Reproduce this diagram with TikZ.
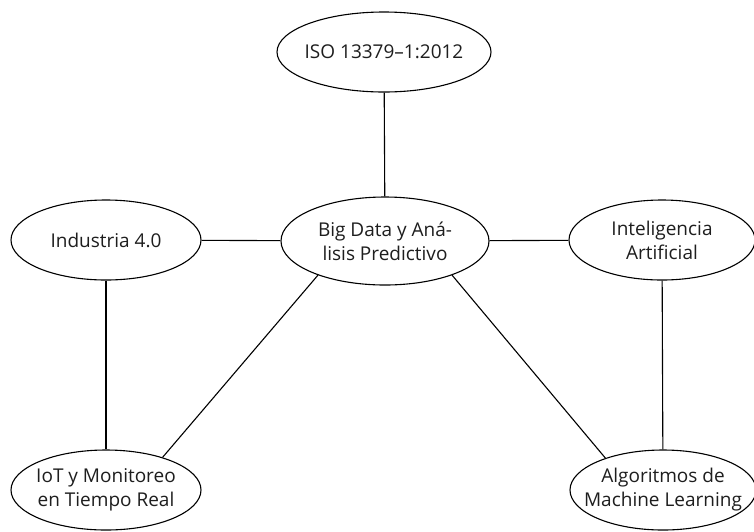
\documentclass[tikz,border=0pt]{standalone}
\usepackage{fontspec}
\setmainfont{Open Sans}
\usetikzlibrary{shapes.geometric}
\definecolor{ink}{HTML}{1E1E1E}
\tikzset{
  bubble/.style={ellipse, draw=black, line width=1.1pt, fill=white, inner sep=0pt},
  caption/.style={align=center, text=ink, inner sep=0pt, font=\fontsize{19}{24}\selectfont},
  link/.style={draw=black, line width=1.1pt}
}
\begin{document}
\begin{tikzpicture}[x=1pt, y=-1pt]
\useasboundingbox (0,0) rectangle (754,531);
\fill[white] (0,0) rectangle (754,531);

% ellipses
\node[bubble, minimum width=214pt, minimum height=80pt] (iso) at (384,52) {};
\node[bubble, minimum width=208pt, minimum height=88pt] (bd)  at (385,241) {};
\node[bubble, minimum width=190pt, minimum height=80pt] (ind) at (106,240) {};
\node[bubble, minimum width=186pt, minimum height=80pt] (ia)  at (662,240) {};
\node[bubble, minimum width=190pt, minimum height=80pt] (iot) at (106,490) {};
\node[bubble, minimum width=186pt, minimum height=80pt] (ml)  at (663,490) {};

% connectors
\draw[link] (iso) -- (bd);
\draw[link] (bd) -- (ind);
\draw[link] (bd) -- (ia);
\draw[link] (ind) -- (iot);
\draw[link] (ia) -- (ml);
\draw[link] (bd.207) -- (iot.30);
\draw[link] (bd.333) -- (ml.151);

% labels
\node[caption] (iso-t) at (iso) {ISO 13379–1:2012};
\node[caption] (bd-t)  at (bd)  {Big Data y Aná-\\lisis Predictivo};
\node[caption] (ind-t) at (ind) {Industria 4.0};
\node[caption] (ia-t)  at (ia)  {Inteligencia\\Artificial};
\node[caption] (iot-t) at (iot) {IoT y Monitoreo\\en Tiempo Real};
\node[caption] (ml-t)  at (ml)  {Algoritmos de\\Machine Learning};
\end{tikzpicture}
\end{document}
